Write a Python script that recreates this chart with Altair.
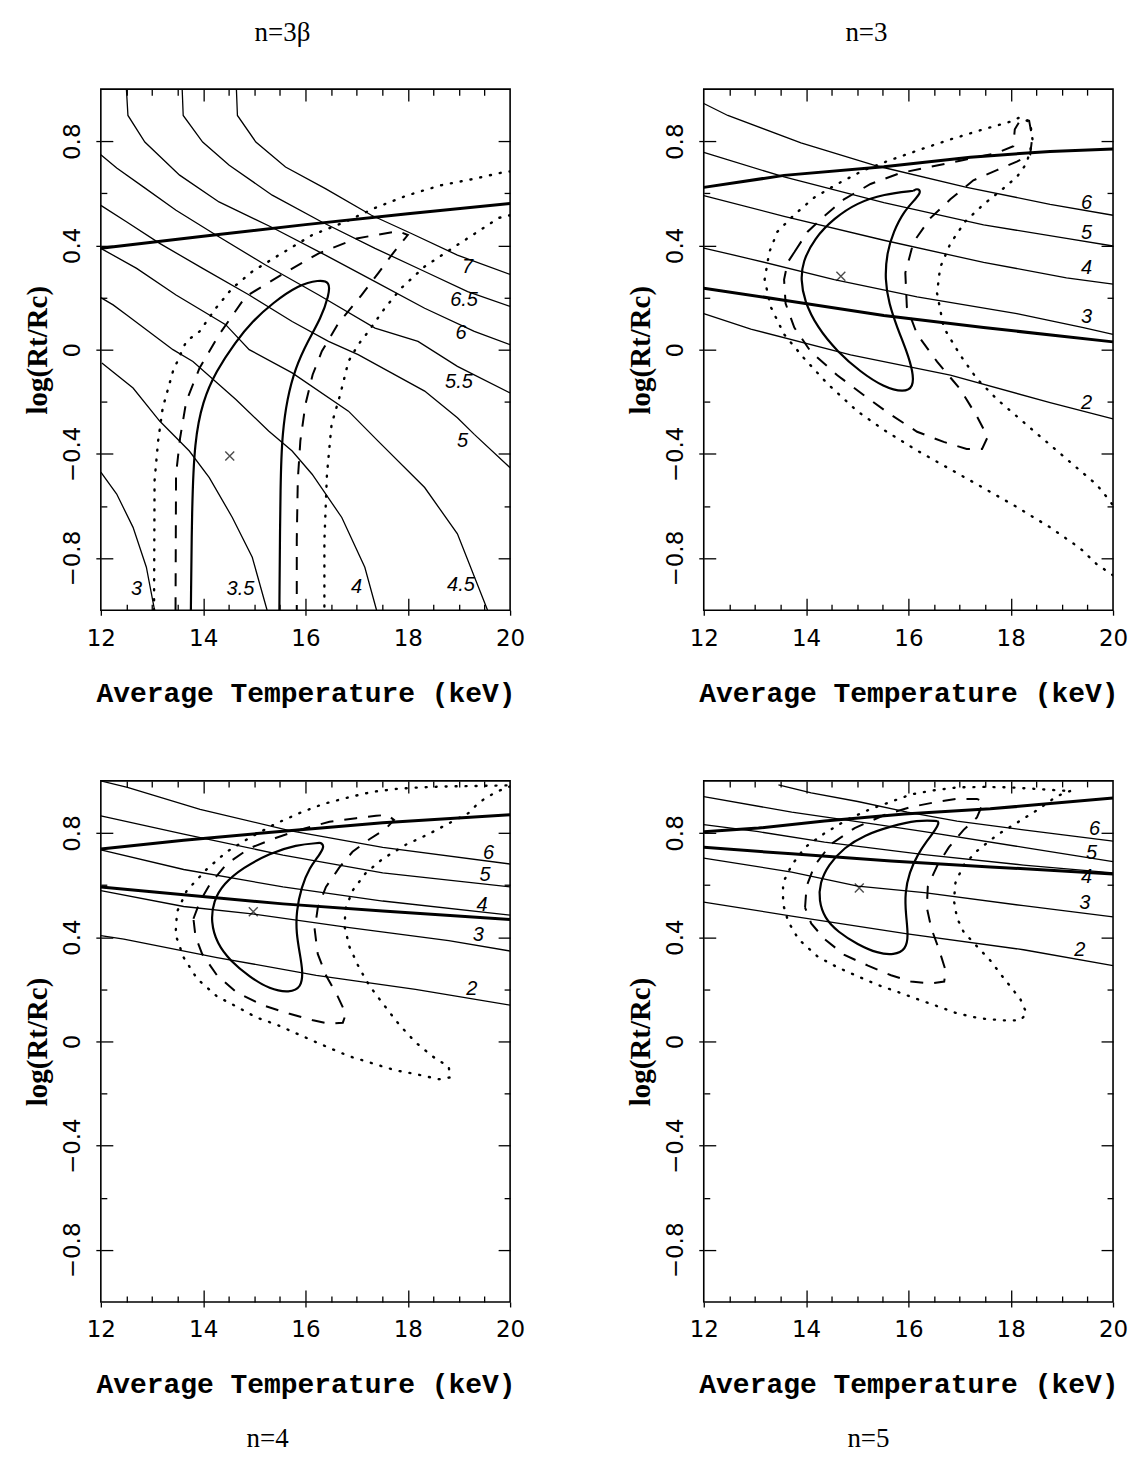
import altair as alt
import pandas as pd

# ---------------- axis ticks ----------------
X_TICKS = [12, 14, 16, 18, 20]
Y_TICKS = [-0.8, -0.4, 0, 0.4, 0.8]
X_MAJOR_IN = [14, 16, 18]
X_MINOR = [12.5, 13, 13.5, 14.5, 15, 15.5, 16.5, 17, 17.5, 18.5, 19, 19.5]
Y_MINOR = [-0.6, -0.2, 0.2, 0.6]

# ---------------- panel n=3beta ----------------
B_C3 = [(12.0, -0.47), (12.31, -0.554), (12.63, -0.682), (12.89, -0.835), (13.05, -1.0)]
B_C35 = [(12.02, -0.051), (12.63, -0.147), (13.15, -0.274), (13.73, -0.389), (14.12, -0.491),
         (14.57, -0.644), (14.96, -0.797), (15.25, -1.0)]
B_C4 = [(12.0, 0.2), (12.24, 0.172), (12.5, 0.134), (13.41, 0.0), (13.8, -0.045), (14.64, -0.191),
        (15.28, -0.312), (15.74, -0.389), (16.13, -0.478), (16.71, -0.644), (17.16, -0.835), (17.39, -1.0)]
B_C45 = [(12.0, 0.389), (12.7, 0.312), (13.47, 0.21), (14.44, 0.096), (14.9, 0.0), (15.74, -0.089),
         (16.84, -0.236), (17.42, -0.351), (18.33, -0.529), (18.97, -0.707), (19.56, -1.0)]
B_C5 = [(12.0, 0.554), (12.5, 0.491), (13.15, 0.408), (13.99, 0.312), (14.9, 0.21), (15.74, 0.108),
        (16.45, 0.032), (17.03, -0.019), (17.68, -0.089), (18.33, -0.159), (18.97, -0.261),
        (19.3, -0.325), (20.0, -0.453)]
B_C55 = [(12.0, 0.748), (12.31, 0.697), (12.83, 0.625), (13.47, 0.535), (14.25, 0.44), (15.22, 0.325),
         (16.26, 0.21), (17.36, 0.083), (18.2, 0.032), (18.97, -0.064), (20.0, -0.166)]
B_C6 = [(12.5, 1.0), (12.53, 0.899), (12.86, 0.797), (13.54, 0.67), (14.31, 0.567), (15.35, 0.469),
        (16.39, 0.363), (17.36, 0.261), (18.33, 0.159), (19.3, 0.07), (20.0, 0.019)]
B_C65 = [(13.59, 1.0), (13.61, 0.899), (13.99, 0.797), (14.51, 0.708), (15.35, 0.593), (16.32, 0.49),
         (17.36, 0.389), (18.33, 0.3), (19.17, 0.223), (20.0, 0.166)]
B_C7 = [(14.65, 1.0), (14.67, 0.899), (15.03, 0.797), (15.61, 0.701), (16.39, 0.618), (17.29, 0.516),
        (18.07, 0.446), (18.97, 0.363), (20.0, 0.289)]
B_THICK = [(12.0, 0.389), (14.0, 0.435), (16.0, 0.48), (18.0, 0.522), (20.0, 0.561)]
B_SOLID = [(13.76, -1.0), (13.78, -0.605), (13.83, -0.351), (13.99, -0.198), (14.25, -0.083),
           (14.64, 0.032), (14.96, 0.108), (15.35, 0.178), (15.87, 0.249), (16.26, 0.268),
           (16.48, 0.261), (16.46, 0.21), (16.3, 0.12), (16.05, 0.035), (15.8, -0.07),
           (15.64, -0.19), (15.55, -0.32), (15.51, -0.48), (15.49, -1.0)]
B_DASHED = [(13.46, -1.0), (13.47, -0.478), (13.55, -0.338), (13.67, -0.198), (13.93, -0.07),
            (14.31, 0.057), (14.83, 0.204), (15.58, 0.293), (16.26, 0.37), (17.0, 0.427),
            (17.81, 0.455), (18.0, 0.44), (17.71, 0.37), (17.42, 0.293), (17.1, 0.21),
            (16.64, 0.1), (16.32, -0.006), (16.14, -0.096), (16.0, -0.21), (15.9, -0.35),
            (15.85, -0.5), (15.83, -0.73), (15.83, -1.0)]
B_DOT_A = [(13.04, -1.0), (13.05, -0.503), (13.12, -0.35), (13.21, -0.223), (13.41, -0.083),
           (13.67, 0.032), (13.93, 0.07), (14.25, 0.16), (14.57, 0.236), (14.96, 0.3),
           (15.48, 0.363), (16.13, 0.44), (16.77, 0.49), (17.36, 0.544), (18.0, 0.593),
           (18.65, 0.631), (19.3, 0.656), (19.82, 0.679), (20.0, 0.684)]
B_DOT_B = [(20.0, 0.516), (19.78, 0.506), (18.97, 0.402), (18.33, 0.319), (17.87, 0.236),
           (17.55, 0.159), (17.23, 0.07), (17.03, 0.019), (16.84, -0.045), (16.68, -0.172),
           (16.51, -0.287), (16.42, -0.478), (16.37, -0.733), (16.37, -1.0)]
B_MARK = [(14.52, -0.408)]
B_LABELS = [("3", 12.7, -0.918), ("3.5", 14.73, -0.918), ("4", 17.0, -0.91), ("4.5", 19.04, -0.905),
            ("5", 19.07, -0.35), ("5.5", 19.0, -0.124), ("6", 19.04, 0.064), ("6.5", 19.1, 0.19),
            ("7", 19.17, 0.319)]

# ---------------- panel n=3 ----------------
N3_C6 = [(12.0, 0.945), (12.47, 0.899), (13.9, 0.794), (15.39, 0.705), (17.14, 0.623), (18.77, 0.558), (20.0, 0.516)]
N3_C5 = [(12.0, 0.757), (13.57, 0.663), (15.52, 0.564), (17.47, 0.479), (19.09, 0.427), (20.0, 0.398)]
N3_C4 = [(12.0, 0.591), (13.57, 0.512), (15.52, 0.42), (17.47, 0.335), (19.09, 0.276), (20.0, 0.252)]
N3_C3 = [(12.0, 0.39), (12.92, 0.348), (14.55, 0.269), (16.17, 0.203), (18.12, 0.138), (19.42, 0.085), (20.0, 0.059)]
N3_C2 = [(12.0, 0.138), (12.92, 0.079), (14.87, -0.02), (16.82, -0.098), (18.77, -0.203), (20.0, -0.266)]
N3_THICK_A = [(12.0, 0.623), (13.57, 0.669), (15.52, 0.702), (17.21, 0.739), (18.77, 0.761), (20.0, 0.77)]
N3_THICK_B = [(12.0, 0.236), (13.57, 0.19), (15.52, 0.131), (17.47, 0.085), (20.0, 0.03)]
N3_SOLID = [(16.1, 0.61), (15.52, 0.597), (15.0, 0.564), (14.55, 0.505), (14.16, 0.427), (13.93, 0.335),
            (13.9, 0.269), (13.96, 0.19), (14.22, 0.085), (14.61, -0.007), (15.06, -0.085),
            (15.52, -0.144), (15.91, -0.164), (16.1, -0.144), (16.09, -0.085), (15.97, -0.007),
            (15.78, 0.085), (15.62, 0.177), (15.54, 0.269), (15.58, 0.374), (15.71, 0.453),
            (15.91, 0.531), (16.17, 0.584), (16.25, 0.608), (16.17, 0.619), (16.1, 0.61)]
N3_DASHED = [(13.77, 0.374), (14.03, 0.453), (14.35, 0.512), (14.74, 0.577), (15.26, 0.636),
             (15.84, 0.678), (16.43, 0.702), (17.08, 0.728), (17.73, 0.755), (18.05, 0.781),
             (18.08, 0.846), (18.21, 0.888), (18.36, 0.879), (18.42, 0.814), (18.38, 0.748),
             (18.12, 0.722), (17.73, 0.689), (17.27, 0.65), (16.82, 0.577), (16.43, 0.505),
             (16.1, 0.413), (15.94, 0.295), (15.97, 0.164), (16.17, 0.059), (16.56, -0.046),
             (17.01, -0.151), (17.34, -0.256), (17.55, -0.335), (17.44, -0.381), (17.14, -0.381),
             (16.69, -0.354), (16.17, -0.315), (15.65, -0.249), (15.13, -0.175), (14.61, -0.098),
             (14.09, -0.007), (13.77, 0.085), (13.6, 0.177), (13.57, 0.269), (13.64, 0.335),
             (13.77, 0.374)]
N3_DOTTED = [(20.0, -0.866), (19.68, -0.823), (19.35, -0.761), (18.77, -0.682), (18.12, -0.604),
             (17.47, -0.531), (16.82, -0.459), (16.17, -0.387), (15.52, -0.308), (15.0, -0.236),
             (14.42, -0.131), (13.96, -0.033), (13.57, 0.059), (13.31, 0.164), (13.19, 0.269),
             (13.28, 0.374), (13.44, 0.453), (13.77, 0.518), (14.16, 0.584), (14.61, 0.636),
             (15.13, 0.689), (15.65, 0.728), (16.23, 0.768), (16.82, 0.807), (17.47, 0.846),
             (17.99, 0.875), (18.18, 0.892), (18.38, 0.873), (18.43, 0.801), (18.31, 0.715),
             (18.12, 0.663), (17.79, 0.608), (17.47, 0.558), (17.11, 0.492), (16.82, 0.407),
             (16.62, 0.315), (16.56, 0.217), (16.69, 0.085), (17.01, -0.02), (17.34, -0.112),
             (17.73, -0.19), (18.12, -0.256), (18.51, -0.322), (18.9, -0.387), (19.29, -0.453),
             (19.68, -0.518), (19.87, -0.564), (20.0, -0.597)]
N3_MARK = [(14.68, 0.282)]
N3_LABELS = [("6", 19.48, 0.564), ("5", 19.48, 0.446), ("4", 19.48, 0.315), ("3", 19.48, 0.125), ("2", 19.48, -0.203)]

# ---------------- panel n=4 ----------------
N4_C6 = [(12.0, 1.0), (12.52, 0.975), (13.94, 0.891), (15.69, 0.809), (17.51, 0.745), (20.0, 0.681)]
N4_C5 = [(12.0, 0.866), (13.62, 0.796), (15.56, 0.715), (17.51, 0.647), (20.0, 0.593)]
N4_C4 = [(12.0, 0.735), (13.62, 0.66), (15.56, 0.593), (17.51, 0.539), (20.0, 0.485)]
N4_C3 = [(12.0, 0.579), (13.62, 0.518), (14.91, 0.491), (16.86, 0.437), (18.8, 0.387), (20.0, 0.347)]
N4_C2 = [(12.0, 0.406), (12.45, 0.393), (14.27, 0.322), (16.21, 0.254), (18.15, 0.2), (20.0, 0.139)]
N4_THICK_A = [(12.0, 0.739), (13.62, 0.772), (15.56, 0.807), (17.51, 0.839), (20.0, 0.87)]
N4_THICK_B = [(12.0, 0.593), (13.62, 0.563), (15.56, 0.528), (17.51, 0.501), (20.0, 0.468)]
N4_SOLID = [(16.27, 0.762), (15.82, 0.755), (15.3, 0.722), (14.78, 0.667), (14.4, 0.606), (14.2, 0.539),
            (14.15, 0.458), (14.27, 0.376), (14.53, 0.309), (14.91, 0.248), (15.3, 0.2), (15.69, 0.187),
            (15.92, 0.207), (15.95, 0.268), (15.89, 0.336), (15.82, 0.417), (15.82, 0.498),
            (15.92, 0.593), (16.08, 0.667), (16.27, 0.715), (16.37, 0.749), (16.31, 0.762), (16.27, 0.762)]
N4_DASHED = [(13.81, 0.471), (13.94, 0.539), (14.14, 0.606), (14.46, 0.681), (14.91, 0.742),
             (15.43, 0.782), (15.95, 0.816), (16.47, 0.843), (16.99, 0.857), (17.38, 0.866),
             (17.6, 0.87), (17.73, 0.85), (17.57, 0.816), (17.25, 0.776), (16.92, 0.728),
             (16.66, 0.667), (16.4, 0.593), (16.24, 0.512), (16.18, 0.43), (16.24, 0.336),
             (16.4, 0.254), (16.63, 0.173), (16.79, 0.106), (16.73, 0.072), (16.47, 0.068),
             (16.15, 0.081), (15.69, 0.106), (15.17, 0.139), (14.66, 0.187), (14.27, 0.254),
             (13.98, 0.336), (13.85, 0.403), (13.81, 0.471)]
N4_DOTTED = [(20.0, 0.979), (19.77, 0.961), (19.55, 0.938), (19.38, 0.915), (19.19, 0.877),
             (18.8, 0.837), (18.41, 0.796), (17.96, 0.755), (17.51, 0.701), (17.18, 0.647),
             (16.92, 0.579), (16.79, 0.512), (16.76, 0.444), (16.86, 0.363), (17.05, 0.282),
             (17.25, 0.214), (17.51, 0.146), (17.83, 0.065), (18.15, -0.003), (18.48, -0.057),
             (18.8, -0.097), (18.83, -0.138), (18.61, -0.145), (18.15, -0.125), (17.76, -0.111),
             (17.31, -0.084), (16.86, -0.057), (16.53, -0.03), (16.21, -0.003), (15.82, 0.031),
             (15.43, 0.065), (15.04, 0.092), (14.66, 0.133), (14.27, 0.173), (13.88, 0.241),
             (13.62, 0.322), (13.46, 0.41), (13.49, 0.498), (13.68, 0.579), (14.07, 0.661),
             (14.46, 0.728), (14.91, 0.782), (15.43, 0.837), (15.89, 0.877), (16.34, 0.911),
             (16.86, 0.938), (17.31, 0.958), (17.76, 0.969), (18.22, 0.975), (18.8, 0.979),
             (19.45, 0.981), (20.0, 0.983)]
N4_MARK = [(14.98, 0.498)]
N4_LABELS = [("6", 19.58, 0.722), ("5", 19.51, 0.64), ("4", 19.45, 0.525), ("3", 19.38, 0.41), ("2", 19.25, 0.2)]

# ---------------- panel n=5 ----------------
N5_C6 = [(13.46, 0.985), (14.1, 0.954), (15.01, 0.921), (15.98, 0.88), (16.95, 0.846), (18.25, 0.812), (20.0, 0.769)]
N5_C5 = [(12.0, 0.94), (13.72, 0.88), (15.4, 0.832), (16.31, 0.805), (18.25, 0.745), (20.0, 0.69)]
N5_C4 = [(12.0, 0.832), (13.07, 0.805), (14.36, 0.765), (16.31, 0.717), (18.25, 0.677), (20.0, 0.647)]
N5_C3 = [(12.0, 0.704), (13.72, 0.65), (15.01, 0.596), (16.31, 0.571), (18.25, 0.521), (20.0, 0.478)]
N5_C2 = [(12.0, 0.535), (13.72, 0.481), (15.98, 0.413), (18.25, 0.352), (20.0, 0.291)]
N5_THICK_A = [(12.0, 0.805), (13.07, 0.819), (14.36, 0.846), (15.92, 0.873), (17.6, 0.893), (20.0, 0.934)]
N5_THICK_B = [(12.0, 0.745), (13.72, 0.72), (15.66, 0.693), (17.6, 0.67), (20.0, 0.643)]
N5_SOLID = [(16.57, 0.846), (16.18, 0.85), (15.66, 0.826), (15.14, 0.792), (14.75, 0.745), (14.43, 0.677),
            (14.27, 0.609), (14.25, 0.541), (14.36, 0.474), (14.62, 0.42), (15.01, 0.372), (15.4, 0.338),
            (15.72, 0.332), (15.95, 0.352), (16.0, 0.406), (15.95, 0.487), (15.93, 0.569), (16.02, 0.65),
            (16.18, 0.717), (16.37, 0.772), (16.53, 0.812), (16.6, 0.839), (16.57, 0.846)]
N5_DASHED = [(13.98, 0.514), (14.01, 0.596), (14.17, 0.677), (14.49, 0.758), (14.95, 0.819),
             (15.53, 0.869), (16.05, 0.9), (16.57, 0.92), (16.95, 0.931), (17.34, 0.931), (17.47, 0.92),
             (17.34, 0.86), (17.08, 0.812), (16.79, 0.745), (16.57, 0.677), (16.38, 0.596), (16.36, 0.514),
             (16.45, 0.433), (16.6, 0.352), (16.73, 0.271), (16.7, 0.23), (16.44, 0.223), (16.05, 0.23),
             (15.66, 0.254), (15.21, 0.291), (14.75, 0.332), (14.36, 0.393), (14.1, 0.453), (13.98, 0.514)]
N5_DOTTED = [(19.16, 0.961), (18.9, 0.941), (18.51, 0.887), (18.12, 0.839), (17.73, 0.792), (17.34, 0.731),
             (17.08, 0.677), (16.92, 0.609), (16.89, 0.541), (16.95, 0.474), (17.08, 0.42), (17.34, 0.365),
             (17.6, 0.311), (17.86, 0.244), (18.19, 0.162), (18.31, 0.108), (18.19, 0.081), (17.86, 0.081),
             (17.41, 0.088), (16.95, 0.108), (16.57, 0.135), (16.18, 0.162), (15.79, 0.19), (15.4, 0.217),
             (15.01, 0.25), (14.62, 0.284), (14.23, 0.325), (13.85, 0.393), (13.65, 0.46), (13.55, 0.528),
             (13.55, 0.609), (13.72, 0.677), (13.98, 0.745), (14.36, 0.799), (14.82, 0.853), (15.27, 0.893),
             (15.66, 0.92), (16.05, 0.948), (16.5, 0.964), (16.95, 0.975), (17.47, 0.977), (17.99, 0.975),
             (18.51, 0.969), (18.9, 0.964), (19.16, 0.961)]
N5_MARK = [(15.04, 0.589)]
N5_LABELS = [("6", 19.64, 0.815), ("5", 19.58, 0.722), ("4", 19.48, 0.632), ("3", 19.45, 0.53), ("2", 19.35, 0.352)]


# ---------------- helpers ----------------
def to_df(curves):
    rows = []
    for name, pts in curves.items():
        for i, (x, y) in enumerate(pts):
            rows.append({"curve": name, "i": i, "x": x, "y": y})
    return pd.DataFrame(rows)


TICK = dict(tickColor="black", tickWidth=1.3, domain=False, grid=False, labels=False, title=None,
            minExtent=0, maxExtent=0)

AX_X_MAIN = alt.Axis(orient="bottom", values=X_TICKS, format="d", tickSize=5, tickColor="black",
                     tickWidth=1.3, domain=False, grid=False, labelFlush=False, labelOverlap=False,
                     labelFont="DejaVu Sans", labelFontSize=23, labelColor="black", labelPadding=12,
                     title="Average Temperature (keV)", titleFont="Liberation Mono", titleFontSize=28,
                     titleFontWeight="bold", titleColor="black", titlePadding=29)
AX_Y_MAIN = alt.Axis(orient="left", values=Y_TICKS, format=".1~f", tickSize=5, tickColor="black",
                     tickWidth=1.3, domain=False, grid=False, labelFlush=False, labelOverlap=False,
                     labelAngle=270, labelAlign="center", labelBaseline="bottom",
                     labelFont="DejaVu Sans", labelFontSize=23, labelColor="black", labelPadding=11,
                     title="log(Rt/Rc)", titleFont="Liberation Serif", titleFontSize=29,
                     titleFontWeight="bold", titleColor="black", titlePadding=9)
AX_X_BMAJ = alt.Axis(orient="bottom", values=X_MAJOR_IN, offset=-12, tickSize=12, **TICK)
AX_Y_LMAJ = alt.Axis(orient="left", values=Y_TICKS, offset=-12, tickSize=12, **TICK)
AX_X_BMIN = alt.Axis(orient="bottom", values=X_MINOR, offset=-6, tickSize=6, **TICK)
AX_Y_LMIN = alt.Axis(orient="left", values=Y_MINOR, offset=-6, tickSize=6, **TICK)
AX_X_TMAJ = alt.Axis(orient="top", values=X_MAJOR_IN, offset=-12, tickSize=12, **TICK)
AX_Y_RMAJ = alt.Axis(orient="right", values=Y_TICKS, offset=-12, tickSize=12, **TICK)
AX_X_TMIN = alt.Axis(orient="top", values=X_MINOR, offset=-6, tickSize=6, **TICK)
AX_Y_RMIN = alt.Axis(orient="right", values=Y_MINOR, offset=-6, tickSize=6, **TICK)


def make_panel(thin, thick, solid, dashed, dotted, mark, labels, title, orient, dx, offset):
    xs = alt.Scale(domain=[12, 20], nice=False, zero=False)
    ys = alt.Scale(domain=[-1, 1], nice=False, zero=False)

    def xy(ax, ay):
        return dict(x=alt.X("x:Q", scale=xs, axis=ax), y=alt.Y("y:Q", scale=ys, axis=ay))

    l_thin = alt.Chart(to_df(thin)).mark_line(color="black", strokeWidth=1.3, clip=True).encode(
        detail="curve:N", order="i:Q", **xy(AX_X_MAIN, AX_Y_MAIN))
    l_thick = alt.Chart(to_df(thick)).mark_line(color="black", strokeWidth=3, clip=True).encode(
        detail="curve:N", order="i:Q", **xy(AX_X_BMAJ, AX_Y_LMAJ))
    l_solid = alt.Chart(to_df(solid)).mark_line(color="black", strokeWidth=2.2, clip=True,
                                                 interpolate="basis").encode(
        detail="curve:N", order="i:Q", **xy(AX_X_BMIN, AX_Y_LMIN))
    l_dash = alt.Chart(to_df(dashed)).mark_line(color="black", strokeWidth=2, clip=True,
                                                strokeDash=[13, 11]).encode(
        detail="curve:N", order="i:Q", **xy(AX_X_TMAJ, AX_Y_RMAJ))
    l_dot = alt.Chart(to_df(dotted)).mark_line(color="black", strokeWidth=2.4, clip=True,
                                               strokeDash=[1, 9], strokeCap="round").encode(
        detail="curve:N", order="i:Q", **xy(AX_X_TMIN, AX_Y_RMIN))
    mdf = pd.DataFrame([{"x": x, "y": y} for x, y in mark])
    l_mark = alt.Chart(mdf).mark_point(shape="M-1,-1L1,1M-1,1L1,-1", size=80, strokeWidth=1.4,
                                       color="black", filled=False).encode(**xy(None, None))
    tdf = pd.DataFrame([{"t": t, "x": x, "y": y} for t, x, y in labels])
    l_text = alt.Chart(tdf).mark_text(font="Liberation Sans", fontSize=20, fontStyle="italic",
                                      color="black").encode(text="t:N", **xy(None, None))
    return alt.layer(l_thin, l_thick, l_solid, l_dash, l_dot, l_mark, l_text).properties(
        width=410, height=522,
        title=alt.TitleParams(text=title, orient=orient, anchor="middle", dx=dx, offset=offset,
                              font="Liberation Serif", fontSize=27, fontWeight="normal", color="black"),
    ).resolve_axis(x="independent", y="independent")


p1 = make_panel({"3": B_C3, "3.5": B_C35, "4": B_C4, "4.5": B_C45, "5": B_C5, "5.5": B_C55,
                 "6": B_C6, "6.5": B_C65, "7": B_C7},
                {"t": B_THICK}, {"s": B_SOLID}, {"d": B_DASHED}, {"a": B_DOT_A, "b": B_DOT_B},
                B_MARK, B_LABELS, "n=3β", "top", -23, 42)
p2 = make_panel({"6": N3_C6, "5": N3_C5, "4": N3_C4, "3": N3_C3, "2": N3_C2},
                {"a": N3_THICK_A, "b": N3_THICK_B}, {"s": N3_SOLID}, {"d": N3_DASHED}, {"a": N3_DOTTED},
                N3_MARK, N3_LABELS, "n=3", "top", -42, 42)
p3 = make_panel({"6": N4_C6, "5": N4_C5, "4": N4_C4, "3": N4_C3, "2": N4_C2},
                {"a": N4_THICK_A, "b": N4_THICK_B}, {"s": N4_SOLID}, {"d": N4_DASHED}, {"a": N4_DOTTED},
                N4_MARK, N4_LABELS, "n=4", "bottom", -38, 27)
p4 = make_panel({"6": N5_C6, "5": N5_C5, "4": N5_C4, "3": N5_C3, "2": N5_C2},
                {"a": N5_THICK_A, "b": N5_THICK_B}, {"s": N5_SOLID}, {"d": N5_DASHED}, {"a": N5_DOTTED},
                N5_MARK, N5_LABELS, "n=5", "bottom", -40, 27)

top = alt.hconcat(p1, p2, spacing=100)
bottom = alt.hconcat(p3, p4, spacing=100)
chart = alt.vconcat(top, bottom, spacing=71).properties(
    padding={"left": 15, "top": 8, "right": 0, "bottom": 0},
    background="white",
).configure_view(stroke="black", strokeWidth=1.6)

chart.save("out.html", embed_options={"renderer": "svg", "actions": False})
